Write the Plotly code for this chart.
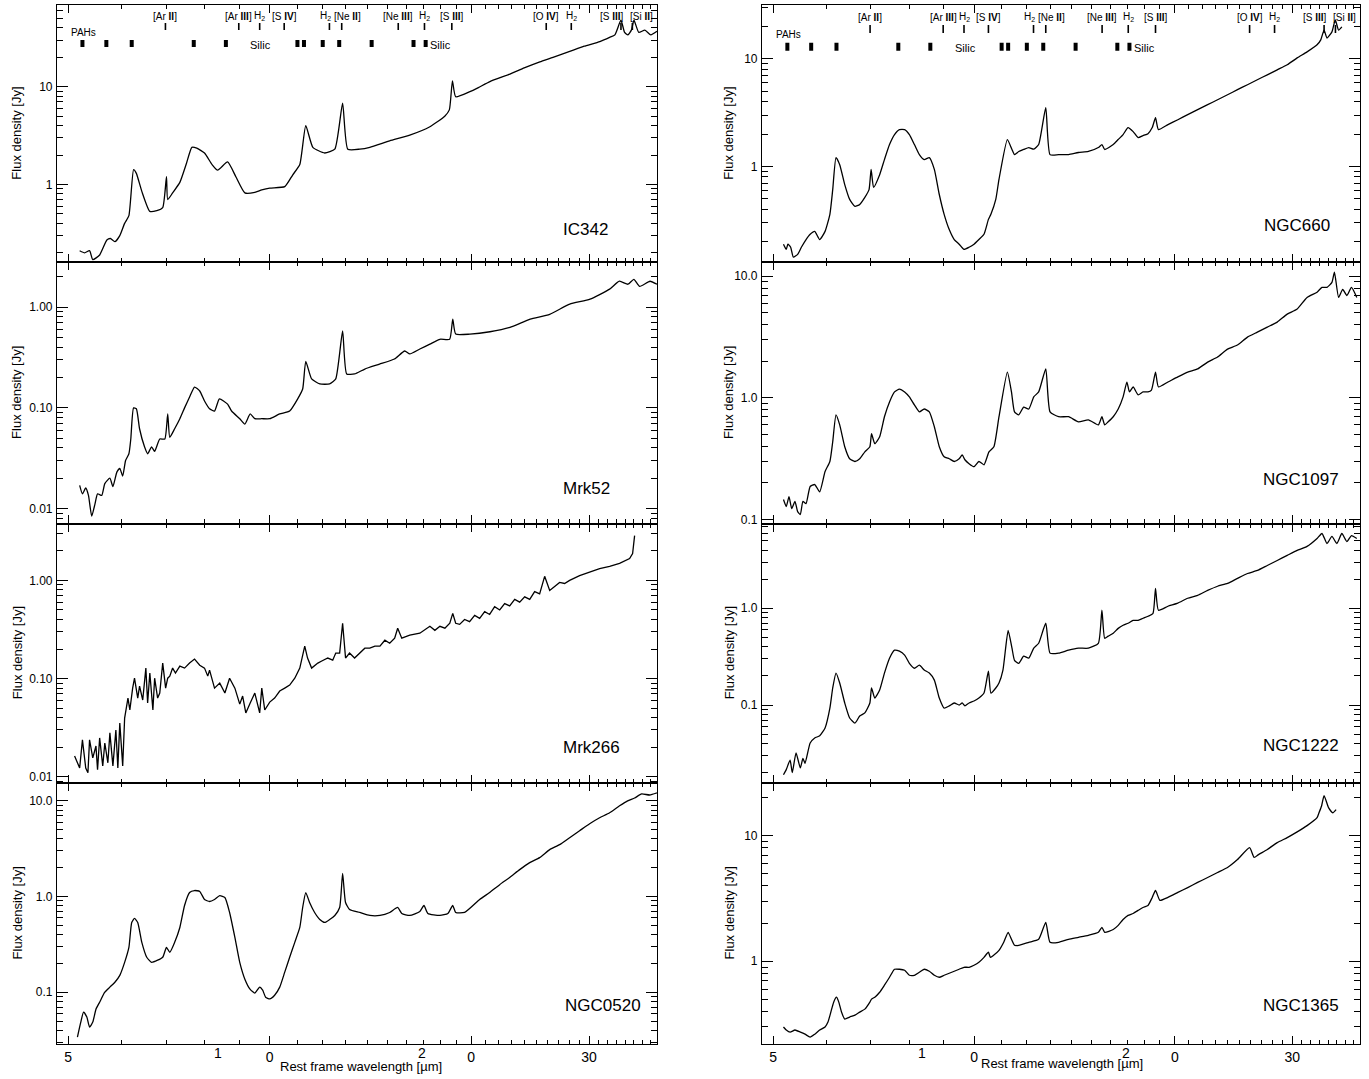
import numpy as np
import plotly.graph_objects as go

FONT = "Liberation Sans, Arial, Helvetica, sans-serif"

# ---------------- data ----------------
IC342_wl = [5.20,5.29,5.38,5.44,5.57,5.71,5.78,5.87,5.97,6.07,6.16,6.26,6.32,6.44,6.62,6.78,6.92,7.01,7.04,7.16,
            7.34,7.51,7.65,7.78,7.99,8.20,8.36,8.65,8.90,9.18,9.50,9.73,10.0,10.53,10.82,11.09,11.32,11.60,12.08,12.51,
            12.85,13.08,13.63,14.11,15.11,16.19,17.35,18.26,18.55,18.75,18.96,19.91,20.5,21.33,22.85,24.0,25.33,26.5,28.07,29.5,
            31.13,32.2,32.79,33.48,33.9,34.29,34.7,35.01,35.6,36.35,37.1,37.89]
IC342_flux = [0.21,0.20,0.21,0.17,0.19,0.27,0.28,0.26,0.30,0.40,0.48,1.42,1.30,0.85,0.53,0.54,0.58,1.20,0.70,0.82,
              1.05,1.65,2.40,2.35,2.10,1.60,1.40,1.70,1.20,0.82,0.83,0.88,0.92,0.95,1.25,1.60,4.0,2.4,2.1,2.3,
              6.8,2.3,2.3,2.4,2.8,3.2,3.9,5.0,5.8,11.5,7.9,8.9,9.8,11.3,13.5,15.6,18.0,20.0,23.0,26.0,
              29.0,32.0,34.0,48.0,36.0,34.0,38.0,48.0,36.0,38.0,34.0,37.0]

Mrk52_wl = [5.20,5.25,5.31,5.36,5.42,5.48,5.53,5.61,5.67,5.77,5.83,5.91,5.97,6.03,6.09,6.16,6.20,6.26,6.32,6.39,
            6.50,6.57,6.66,6.73,6.85,6.97,7.04,7.09,7.21,7.34,7.46,7.59,7.72,7.86,7.99,8.13,8.27,8.41,8.65,8.77,
            9.02,9.18,9.35,9.50,9.73,10.0,10.35,10.71,11.01,11.20,11.32,11.55,11.88,12.29,12.55,12.85,13.03,13.39,13.87,14.59,
            15.36,15.91,16.19,16.76,17.35,17.96,18.57,18.77,18.96,19.91,21.33,22.85,24.5,26.2,28.07,30.1,32.2,33.3,34.3,35.0,
            35.7,37.0,37.9]
Mrk52_flux = [0.017,0.014,0.016,0.0135,0.0084,0.011,0.014,0.0135,0.0177,0.020,0.0165,0.023,0.025,0.021,0.030,0.035,0.049,0.10,0.098,0.062,
              0.041,0.035,0.041,0.037,0.049,0.049,0.087,0.051,0.062,0.078,0.10,0.128,0.161,0.147,0.117,0.098,0.093,0.123,0.109,0.093,
              0.078,0.069,0.087,0.078,0.078,0.078,0.087,0.093,0.123,0.154,0.29,0.194,0.173,0.173,0.194,0.58,0.217,0.217,0.243,0.272,
              0.306,0.367,0.343,0.384,0.43,0.48,0.48,0.76,0.54,0.54,0.57,0.63,0.76,0.85,1.07,1.20,1.51,1.81,1.69,1.89,
              1.61,1.81,1.69]

Mrk266_wl = [5.11,5.20,5.25,5.31,5.35,5.38,5.44,5.50,5.53,5.57,
             5.63,5.67,5.73,5.77,5.83,5.89,5.93,5.97,6.03,6.07,
             6.14,6.18,6.24,6.28,6.35,6.39,6.46,6.53,6.57,6.62,
             6.69,6.73,6.80,6.85,6.92,6.99,7.04,7.09,7.16,7.23,
             7.34,7.46,7.59,7.72,7.86,7.99,8.08,8.13,8.27,8.42,
             8.57,8.71,8.87,9.02,9.11,9.21,9.35,9.50,9.66,9.73,
             9.83,10.0,10.17,10.35,10.53,10.71,10.90,11.09,11.28,11.39,
             11.55,11.80,11.96,12.21,12.42,12.55,12.72,12.85,12.98,13.16,
             13.39,13.63,13.87,14.11,14.36,14.61,14.86,15.11,15.37,15.53,
             15.75,16.19,16.76,17.35,17.65,17.96,18.27,18.58,18.77,18.96,
             19.22,19.55,19.89,20.24,20.59,20.95,21.31,21.68,22.06,22.44,
             22.83,23.23,23.63,24.04,24.46,24.88,25.31,25.75,26.20,26.65,
             27.11,27.58,28.06,29.04,30.06,31.11,32.20,33.32,34.49,34.85,
             35.09]
Mrk266_flux = [0.0163,0.0123,0.0238,0.0123,0.011,0.0238,0.0156,0.0206,0.0118,0.0249,
               0.0129,0.0221,0.0139,0.028,0.0129,0.030,0.0123,0.0353,0.0129,0.0397,
               0.0634,0.0479,0.080,0.101,0.0634,0.084,0.0605,0.128,0.0564,0.114,
               0.0479,0.101,0.0634,0.0713,0.144,0.080,0.101,0.106,0.128,0.114,
               0.134,0.128,0.144,0.158,0.137,0.128,0.106,0.122,0.080,0.090,
               0.0713,0.101,0.080,0.055,0.0664,0.0447,0.0564,0.0713,0.0447,0.080,
               0.0479,0.0577,0.0634,0.0747,0.080,0.0859,0.101,0.128,0.214,0.162,
               0.128,0.144,0.151,0.162,0.154,0.182,0.182,0.366,0.162,0.182,
               0.162,0.182,0.204,0.204,0.214,0.214,0.246,0.229,0.258,0.326,
               0.258,0.277,0.29,0.341,0.31,0.341,0.326,0.366,0.462,0.366,
               0.357,0.40,0.38,0.44,0.41,0.48,0.45,0.54,0.50,0.58,
               0.55,0.64,0.60,0.68,0.64,0.77,0.73,1.10,0.791,0.869,
               0.954,0.93,1.0,1.12,1.21,1.32,1.39,1.49,1.67,1.88,
               2.86]

NGC0520_wl = [5.16,5.22,5.27,5.33,5.38,5.44,5.50,5.57,5.67,5.77,5.87,5.97,6.07,6.16,6.22,6.28,6.35,6.44,6.55,6.66,
              6.80,6.92,7.01,7.09,7.21,7.34,7.46,7.59,7.72,7.86,7.99,8.13,8.27,8.42,8.57,8.71,8.87,9.02,9.18,9.35,
              9.50,9.66,9.76,9.86,10.0,10.17,10.35,10.53,10.71,10.90,11.09,11.20,11.32,11.47,11.67,11.88,12.08,12.29,12.51,12.72,
              12.85,12.98,13.16,13.63,14.11,14.61,15.11,15.53,15.75,16.19,16.76,17.00,17.23,17.96,18.46,18.77,18.96,19.55,20.59,21.31,
              22.06,22.83,23.63,24.46,25.31,26.20,27.11,28.06,29.04,30.06,31.11,32.20,33.32,34.26,35.09,35.95,36.95,37.90]
NGC0520_flux = [0.034,0.0487,0.062,0.055,0.0432,0.0487,0.0665,0.0787,0.100,0.113,0.127,0.150,0.205,0.294,0.536,0.59,0.536,0.332,0.232,0.205,
                0.216,0.232,0.294,0.261,0.332,0.475,0.806,1.10,1.155,1.13,0.93,0.887,0.93,1.02,0.976,0.681,0.374,0.205,0.137,0.107,
                0.098,0.113,0.105,0.0887,0.085,0.093,0.113,0.162,0.232,0.332,0.475,0.768,1.10,0.866,0.681,0.575,0.536,0.575,0.634,0.768,
                1.74,0.866,0.732,0.681,0.634,0.634,0.681,0.768,0.665,0.634,0.698,0.806,0.665,0.634,0.665,0.806,0.681,0.681,0.93,1.10,
                1.33,1.58,1.91,2.26,2.55,3.09,3.48,4.12,4.87,5.76,6.65,7.5,8.87,10.0,10.7,11.8,11.5,12.1]

NGC660_wl = [5.18,5.23,5.26,5.31,5.36,5.44,5.51,5.60,5.68,5.77,
             5.87,5.98,6.08,6.14,6.21,6.29,6.40,6.51,6.63,6.74,
             6.86,6.96,7.01,7.07,7.22,7.34,7.47,7.60,7.73,7.87,
             8.00,8.14,8.28,8.42,8.57,8.72,8.87,9.02,9.18,9.34,
             9.50,9.66,9.83,10.0,10.17,10.35,10.51,10.60,10.78,10.90,
             11.22,11.40,11.50,11.67,11.87,12.08,12.29,12.50,12.81,13.0,
             13.39,13.86,14.34,14.84,15.36,15.55,15.7,16.17,16.45,16.73,
             17.02,17.32,17.62,17.92,18.23,18.5,18.71,18.9,19.53,20.21,
             20.91,21.64,22.40,23.18,23.99,24.83,25.70,26.59,27.52,28.48,
             29.48,30.51,31.57,32.68,33.1,33.48,33.82,34.40,34.8,35.2,
             35.60]
NGC660_flux = [0.19,0.17,0.19,0.178,0.144,0.153,0.178,0.21,0.235,0.25,
               0.21,0.25,0.36,0.61,1.21,1.04,0.68,0.495,0.426,0.445,
               0.517,0.61,0.94,0.64,0.84,1.16,1.60,1.98,2.20,2.20,
               1.98,1.60,1.29,1.16,1.21,0.94,0.55,0.36,0.26,0.21,
               0.19,0.17,0.178,0.19,0.21,0.235,0.323,0.36,0.495,0.76,
               1.78,1.44,1.29,1.38,1.44,1.50,1.45,1.60,3.52,1.29,
               1.29,1.29,1.35,1.38,1.50,1.60,1.44,1.60,1.78,1.98,
               2.30,2.11,1.86,1.94,2.02,2.30,2.84,2.20,2.45,2.72,
               3.03,3.37,3.75,4.17,4.64,5.17,5.75,6.4,7.1,7.9,
               8.8,10.2,11.6,13.5,15.0,18.5,15.6,17.8,23.0,18.5,
               19.8]

NGC1097_wl = [5.18,5.23,5.28,5.33,5.39,5.44,5.49,5.54,5.60,5.68,
              5.77,5.87,5.98,6.08,6.14,6.21,6.29,6.40,6.51,6.63,
              6.74,6.86,6.98,7.02,7.10,7.22,7.34,7.47,7.60,7.73,
              7.87,8.00,8.14,8.28,8.42,8.57,8.72,8.87,9.02,9.18,
              9.34,9.50,9.60,9.69,9.83,10.0,10.17,10.35,10.53,10.71,
              10.90,11.22,11.38,11.50,11.67,11.87,12.08,12.29,12.50,12.81,
              13.0,13.39,13.86,14.34,14.84,15.36,15.55,15.7,15.89,16.17,
              16.45,16.73,16.95,17.1,17.32,17.62,17.92,18.23,18.45,18.71,
              18.9,19.53,20.21,20.91,21.64,22.40,23.18,23.99,24.83,25.70,
              26.59,27.52,28.48,29.48,30.51,31.57,32.68,33.24,33.82,34.40,
              34.7,35.2,35.7,36.22,36.8,37.48]
NGC1097_flux = [0.146,0.128,0.154,0.123,0.141,0.116,0.110,0.141,0.135,0.187,
                0.194,0.169,0.248,0.30,0.436,0.725,0.60,0.397,0.316,0.30,
                0.316,0.36,0.397,0.507,0.42,0.479,0.70,0.927,1.12,1.18,
                1.12,1.02,0.876,0.768,0.81,0.768,0.579,0.397,0.328,0.316,
                0.30,0.316,0.34,0.31,0.288,0.272,0.30,0.282,0.36,0.397,
                0.70,1.63,1.12,0.768,0.725,0.84,0.81,1.02,1.12,1.73,
                0.768,0.70,0.70,0.636,0.66,0.60,0.70,0.60,0.636,0.70,
                0.81,1.02,1.35,1.12,1.23,1.06,1.12,1.12,1.16,1.63,
                1.23,1.35,1.49,1.63,1.73,1.97,2.17,2.52,2.72,3.16,
                3.47,3.82,4.2,4.88,5.37,6.7,7.4,8.1,8.1,8.9,
                10.8,6.7,7.8,6.95,8.1,6.7]

NGC1222_wl = [5.18,5.23,5.30,5.34,5.41,5.49,5.54,5.58,5.68,5.77,
              5.87,5.98,6.08,6.14,6.21,6.29,6.40,6.51,6.63,6.74,
              6.86,6.98,7.02,7.10,7.22,7.34,7.47,7.60,7.73,7.87,
              8.00,8.14,8.28,8.42,8.57,8.72,8.87,9.02,9.18,9.34,
              9.50,9.60,9.69,9.83,10.0,10.17,10.35,10.51,10.60,10.78,
              10.90,11.05,11.25,11.40,11.50,11.67,11.87,12.08,12.29,12.50,
              12.81,13.0,13.39,13.86,14.34,14.84,15.36,15.55,15.7,15.89,
              16.17,16.45,16.73,17.02,17.32,17.62,17.92,18.23,18.55,18.71,
              18.9,19.53,20.21,20.91,21.64,22.40,23.18,23.99,24.83,25.70,
              26.59,27.52,28.48,29.48,30.51,31.57,32.68,33.24,33.82,34.40,
              34.99,35.60,36.22,36.8,37.48]
NGC1222_flux = [0.019,0.0215,0.027,0.020,0.032,0.0224,0.028,0.025,0.0405,0.0457,
                0.048,0.058,0.093,0.15,0.214,0.169,0.105,0.0735,0.065,0.077,
                0.083,0.105,0.15,0.118,0.143,0.214,0.305,0.369,0.36,0.328,
                0.27,0.24,0.258,0.23,0.214,0.181,0.118,0.093,0.098,0.105,
                0.10,0.105,0.098,0.105,0.11,0.118,0.133,0.224,0.133,0.15,
                0.169,0.23,0.59,0.387,0.29,0.27,0.32,0.305,0.387,0.435,
                0.70,0.344,0.344,0.369,0.387,0.387,0.435,0.954,0.49,0.515,
                0.552,0.62,0.668,0.70,0.75,0.75,0.789,0.827,0.888,1.61,
                0.954,1.05,1.13,1.27,1.36,1.53,1.69,1.81,2.04,2.29,
                2.46,2.77,3.12,3.52,3.96,4.36,5.27,5.93,4.67,5.53,
                4.67,5.93,4.9,5.65,5.27]

NGC1365_wl = [5.18,5.23,5.30,5.39,5.49,5.58,5.68,5.77,5.87,5.98,
              6.04,6.10,6.16,6.22,6.27,6.33,6.40,6.51,6.63,6.74,
              6.86,6.98,7.02,7.10,7.22,7.34,7.47,7.60,7.73,7.87,
              8.00,8.14,8.28,8.42,8.57,8.72,8.87,9.02,9.18,9.34,
              9.50,9.66,9.83,10.0,10.17,10.35,10.51,10.58,10.71,10.90,
              11.08,11.25,11.38,11.50,11.67,12.08,12.50,12.81,13.0,13.39,
              13.86,14.34,14.84,15.36,15.55,15.7,16.17,16.45,16.73,17.02,
              17.32,17.62,17.92,18.23,18.5,18.71,19.0,19.53,20.21,20.91,
              21.64,22.40,23.18,23.99,24.83,25.89,26.3,26.7,27.52,28.48,
              29.48,30.51,31.57,32.68,32.9,33.2,33.48,34.0,34.5,34.9]
NGC1365_flux = [0.30,0.284,0.273,0.284,0.273,0.263,0.249,0.263,0.284,0.30,
                0.328,0.394,0.473,0.518,0.473,0.394,0.347,0.36,0.373,0.394,
                0.416,0.473,0.50,0.518,0.567,0.645,0.746,0.864,0.864,0.848,
                0.774,0.774,0.818,0.864,0.833,0.774,0.746,0.774,0.803,0.833,
                0.864,0.896,0.896,0.93,0.982,1.075,1.18,1.075,1.12,1.22,
                1.415,1.70,1.495,1.34,1.34,1.415,1.495,2.04,1.415,1.415,
                1.495,1.55,1.61,1.70,1.86,1.70,1.79,1.93,2.15,2.32,
                2.40,2.54,2.68,2.78,3.22,3.66,3.05,3.22,3.53,3.86,
                4.24,4.64,5.09,5.58,6.45,8.03,6.7,7.06,7.75,8.8,
                9.64,10.7,12.0,13.9,15.2,17.3,20.8,16.7,15.2,16.1]

# spectral feature identifications (top panels)
LINE_WL = [6.985, 8.99, 9.66, 10.51, 12.28, 12.81, 15.56, 17.03, 18.71, 25.89, 28.22, 33.48, 34.82]
LINE_LABELS = ["[Ar <b>II</b>]", "[Ar <b>III</b>]", "H<sub>2</sub>", "[S <b>IV</b>]", "H<sub>2</sub>",
               "[Ne <b>II</b>]", "[Ne <b>III</b>]", "H<sub>2</sub>", "[S <b>III</b>]", "[O <b>IV</b>]",
               "H<sub>2</sub>", "[S <b>III</b>]", "[Si <b>II</b>]"]
LINE_XSHIFT = [0, 0, 0, 0, -4, 6, 0, 0, 0, 0, 0, -9, 9]
PAH_WL = [5.25, 5.70, 6.22, 7.70, 8.60, 11.0, 11.25, 12.0, 12.7, 14.2, 16.4, 17.1]
SILIC_WL = [9.7, 18.0]

# axis ticks
X_MAJOR = [5, 10, 20, 30]
X_MAJOR_TEXT = ["5", "0", "0", "30"]
X_EXTRA_WL = [8.36, 16.9]          # the detached leading digits of "10" and "20"
X_EXTRA_TEXT = ["1", "2"]
X_MINOR = [6, 7, 8, 9] + list(range(11, 20)) + list(range(21, 30)) + list(range(31, 38))
X_RANGE = [np.log10(4.81), np.log10(37.9)]

PANELS = [
    dict(name="IC342",   wl=IC342_wl,   fx=IC342_flux,   col=0, row=0, yr=[-0.796, 1.837], yt=[1, 10],          ytt=["1", "10"],             lab=(561, 230)),
    dict(name="Mrk52",   wl=Mrk52_wl,   fx=Mrk52_flux,   col=0, row=1, yr=[-2.149, 0.446], yt=[0.01, 0.1, 1],   ytt=["0.01", "0.10", "1.00"], lab=(561, 490)),
    dict(name="Mrk266",  wl=Mrk266_wl,  fx=Mrk266_flux,  col=0, row=2, yr=[-2.061, 0.579], yt=[0.01, 0.1, 1],   ytt=["0.01", "0.10", "1.00"], lab=(561, 750)),
    dict(name="NGC0520", wl=NGC0520_wl, fx=NGC0520_flux, col=0, row=3, yr=[-1.542, 1.188], yt=[0.1, 1, 10],     ytt=["0.1", "1.0", "10.0"],   lab=(563, 1008)),
    dict(name="NGC660",  wl=NGC660_wl,  fx=NGC660_flux,  col=1, row=0, yr=[-0.889, 1.50],  yt=[1, 10],          ytt=["1", "10"],             lab=(1262, 226)),
    dict(name="NGC1097", wl=NGC1097_wl, fx=NGC1097_flux, col=1, row=1, yr=[-1.033, 1.115], yt=[0.1, 1, 10],     ytt=["0.1", "1.0", "10.0"],   lab=(1261, 481)),
    dict(name="NGC1222", wl=NGC1222_wl, fx=NGC1222_flux, col=1, row=2, yr=[-1.804, 0.876], yt=[0.1, 1],         ytt=["0.1", "1.0"],          lab=(1261, 748)),
    dict(name="NGC1365", wl=NGC1365_wl, fx=NGC1365_flux, col=1, row=3, yr=[-0.659, 1.42],  yt=[1, 10],          ytt=["1", "10"],             lab=(1261, 1008)),
]
NOISY = {"Mrk266"}

# ---------------- layout geometry ----------------
W, H = 1369, 1079
COL_PX = [(57, 657), (762, 1360)]
ROW_PX = [(5, 263), (263, 525), (525, 785), (785, 1047)]
YTITLE_X = [17, 729]
XTITLE_POS = [(361, 1069), (1062, 1066)]
XTICK_Y = 1056
MARK_FRAC = [
    dict(label=0.957, tick=(0.903, 0.930), pahs=0.895, rect=(0.837, 0.864), silic=0.845),
    dict(label=0.953, tick=(0.891, 0.922), pahs=0.884, rect=(0.822, 0.853), silic=0.833),
]


def minor_log_vals(yr):
    vals = []
    for k in range(int(np.floor(yr[0])) - 1, int(np.ceil(yr[1])) + 1):
        for m in range(2, 10):
            v = m * 10.0 ** k
            if yr[0] <= np.log10(v) <= yr[1]:
                vals.append(v)
    return vals


fig = go.Figure()
layout = dict(width=W, height=H, margin=dict(l=0, r=0, t=0, b=0),
              paper_bgcolor="white", plot_bgcolor="white", showlegend=False,
              font=dict(family=FONT, color="black"))
annotations = []
AX_LW = 1.1

for i, p in enumerate(PANELS, start=1):
    s = "" if i == 1 else str(i)
    x0, x1 = COL_PX[p["col"]]
    t, b = ROW_PX[p["row"]]
    bottom = p["row"] == 3
    layout["xaxis" + s] = dict(
        domain=[x0 / W, x1 / W], anchor="y" + s, type="log", range=X_RANGE,
        showline=True, linecolor="black", linewidth=AX_LW, mirror="ticks",
        ticks="inside", ticklen=8, tickwidth=1.3, tickcolor="black",
        tickmode="array", tickvals=X_MAJOR, ticktext=X_MAJOR_TEXT,
        showticklabels=bottom, tickfont=dict(size=14, family=FONT, color="black"),
        minor=dict(tickmode="array", tickvals=X_MINOR, ticks="inside", ticklen=4,
                   tickwidth=1, tickcolor="black", showgrid=False),
        showgrid=False, zeroline=False, fixedrange=True)
    layout["yaxis" + s] = dict(
        domain=[1 - b / H, 1 - t / H], anchor="x" + s, type="log", range=p["yr"],
        showline=True, linecolor="black", linewidth=AX_LW, mirror="ticks",
        ticks="inside", ticklen=11, tickwidth=1.3, tickcolor="black",
        tickmode="array", tickvals=p["yt"], ticktext=p["ytt"],
        tickfont=dict(size=12, family=FONT, color="black"), ticklabelstandoff=1,
        minor=dict(tickmode="array", tickvals=minor_log_vals(p["yr"]), ticks="inside",
                   ticklen=6, tickwidth=1, tickcolor="black", showgrid=False),
        showgrid=False, zeroline=False, fixedrange=True)

    if p["name"] in NOISY:
        line = dict(color="black", width=1.3)
    else:
        line = dict(color="black", width=1.3, shape="spline", smoothing=0.5)
    fig.add_trace(go.Scatter(x=p["wl"], y=p["fx"], mode="lines", line=line,
                             xaxis="x" + s, yaxis="y" + s, hoverinfo="skip"))

    annotations.append(dict(text=p["name"], xref="paper", yref="paper",
                            x=p["lab"][0] / W, y=1 - p["lab"][1] / H, xanchor="left", yanchor="middle",
                            showarrow=False, font=dict(size=17, family=FONT, color="black")))
    annotations.append(dict(text="Flux density [Jy]", xref="paper", yref="paper",
                            x=YTITLE_X[p["col"]] / W, y=1 - (t + b) / 2 / H, textangle=-90,
                            xanchor="center", yanchor="middle", showarrow=False,
                            font=dict(size=13, family=FONT, color="black")))

    if bottom:
        tx, ty = XTITLE_POS[p["col"]]
        annotations.append(dict(text="Rest frame wavelength [µm]", xref="paper", yref="paper",
                                x=tx / W, y=1 - ty / H, xanchor="center", yanchor="middle",
                                showarrow=False, font=dict(size=13, family=FONT, color="black")))
        for wl, txt in zip(X_EXTRA_WL, X_EXTRA_TEXT):
            annotations.append(dict(text=txt, xref="x" + s, yref="paper", x=np.log10(wl),
                                    y=1 - XTICK_Y / H, xanchor="center", yanchor="middle",
                                    showarrow=False, font=dict(size=14, family=FONT, color="black")))

    if p["row"] == 0:
        mf = MARK_FRAC[p["col"]]
        yr = p["yr"]
        to_data = lambda f: 10 ** (yr[0] + f * (yr[1] - yr[0]))
        lx, ly = [], []
        for wl in LINE_WL:
            lx += [wl, wl, None]
            ly += [to_data(mf["tick"][0]), to_data(mf["tick"][1]), None]
        fig.add_trace(go.Scatter(x=lx, y=ly, mode="lines", line=dict(color="black", width=1.6),
                                 xaxis="x" + s, yaxis="y" + s, hoverinfo="skip"))
        px_, py_ = [], []
        for wl in PAH_WL:
            px_ += [wl, wl, None]
            py_ += [to_data(mf["rect"][0]), to_data(mf["rect"][1]), None]
        fig.add_trace(go.Scatter(x=px_, y=py_, mode="lines", line=dict(color="black", width=4),
                                 xaxis="x" + s, yaxis="y" + s, hoverinfo="skip"))
        for wl, txt, sh in zip(LINE_WL, LINE_LABELS, LINE_XSHIFT):
            annotations.append(dict(text=txt, xref="x" + s, yref="y" + s + " domain",
                                    x=np.log10(wl), y=mf["label"], xshift=sh,
                                    xanchor="center", yanchor="middle", showarrow=False,
                                    font=dict(size=10, family=FONT, color="black")))
        annotations.append(dict(text="PAHs", xref="x" + s, yref="y" + s + " domain",
                                x=np.log10(5.02), y=mf["pahs"], xanchor="left", yanchor="middle",
                                showarrow=False, font=dict(size=10, family=FONT, color="black")))
        for wl in SILIC_WL:
            annotations.append(dict(text="Silic", xref="x" + s, yref="y" + s + " domain",
                                    x=np.log10(wl), y=mf["silic"], xanchor="center", yanchor="middle",
                                    showarrow=False, font=dict(size=11, family=FONT, color="black")))

layout["annotations"] = annotations
fig.update_layout(**layout)
fig.write_html("out.html")
